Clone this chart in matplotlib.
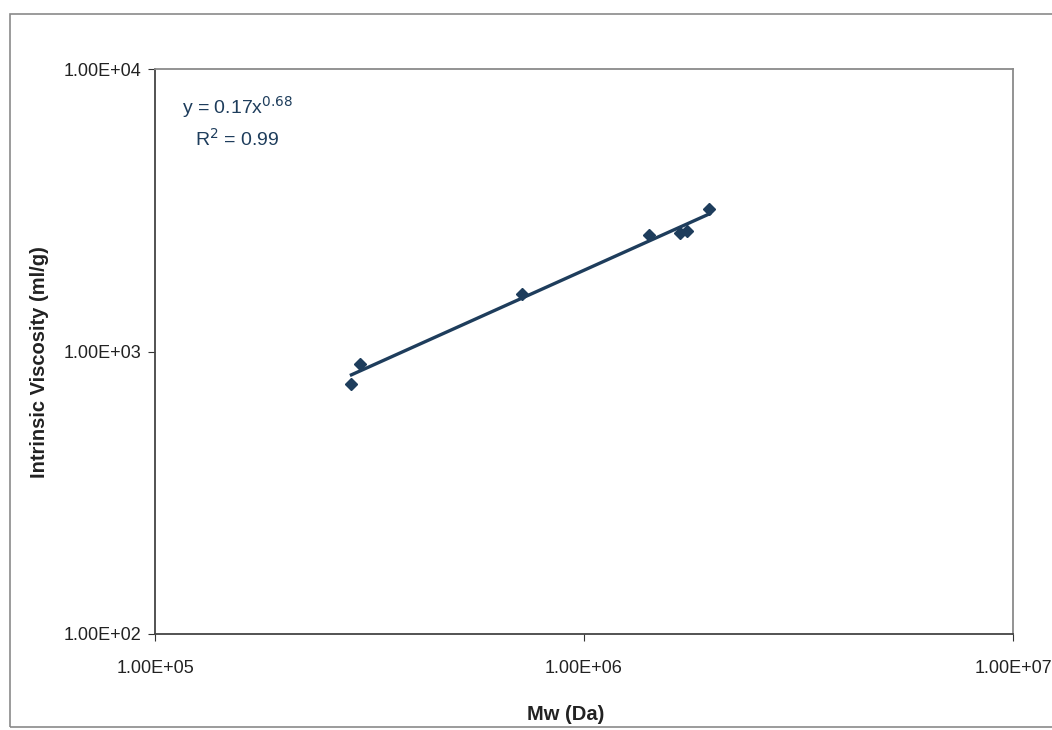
import numpy as np
import matplotlib
matplotlib.use("Agg")
import matplotlib.pyplot as plt
from matplotlib.patches import Rectangle
from matplotlib.ticker import FixedLocator, FixedFormatter, NullLocator

plt.rcParams['font.family'] = ['Liberation Sans', 'DejaVu Sans']

# Data
mw = [287000, 300000, 718000, 1418000, 1674000, 1741000, 1960000]
iv = [770, 900, 1600, 2580, 2620, 2680, 3200]
x_ticks = [1e5, 1e6, 1e7]
x_labels = ["1.00E+05", "1.00E+06", "1.00E+07"]
y_ticks = [1e2, 1e3, 1e4]
y_labels = ["1.00E+02", "1.00E+03", "1.00E+04"]
eq_text = "y = 0.17x$^{0.68}$\nR$^{2}$ = 0.99"

navy = "#1e3d5c"
W, H = 1052, 730
fig = plt.figure(figsize=(W / 100, H / 100), dpi=100)
L, R, T, B = 155, 1013, 69, 634
ax = fig.add_axes([L / W, 1 - B / H, (R - L) / W, (B - T) / H])

# outer chart border
fig.patches.append(Rectangle((10 / W, 1 - 727 / H), 1.2, (727 - 14) / H,
                             transform=fig.transFigure, fill=False,
                             edgecolor="#8a8a8a", linewidth=1.2))

ax.set_xscale('log')
ax.set_yscale('log')
ax.set_xlim(1e5, 1e7)
ax.set_ylim(1e2, 1e4)

ax.plot(mw, iv, linestyle='none', marker='D', markersize=6, color=navy, zorder=3)

# power-law trendline fitted in log space
lx, ly = np.log10(mw), np.log10(iv)
b, a = np.polyfit(lx, ly, 1)
xs = np.array([min(mw), max(mw)])
ax.plot(xs, 10 ** (a + b * np.log10(xs)), color=navy, linewidth=2.4, zorder=2)

ax.text(0.096, 0.955, eq_text, transform=ax.transAxes, ha='center', va='top',
        fontsize=14, color=navy, linespacing=1.45)

ax.xaxis.set_major_locator(FixedLocator(x_ticks))
ax.xaxis.set_major_formatter(FixedFormatter(x_labels))
ax.yaxis.set_major_locator(FixedLocator(y_ticks))
ax.yaxis.set_major_formatter(FixedFormatter(y_labels))
ax.xaxis.set_minor_locator(NullLocator())
ax.yaxis.set_minor_locator(NullLocator())
ax.tick_params(axis='x', direction='out', length=5, pad=14, labelsize=13, colors='#333333')
ax.tick_params(axis='y', direction='out', length=5, pad=5, labelsize=13, colors='#333333')
for lbl in ax.get_xticklabels() + ax.get_yticklabels():
    lbl.set_color('#222222')

for s in ['top', 'right']:
    ax.spines[s].set_color('#8a8a8a')
    ax.spines[s].set_linewidth(1.3)
for s in ['left', 'bottom']:
    ax.spines[s].set_color('#444444')
    ax.spines[s].set_linewidth(1.3)

ax.set_xlabel("Mw (Da)", fontsize=14.5, fontweight='bold', color='#222222')
ax.set_ylabel("Intrinsic Viscosity (ml/g)", fontsize=14.5, fontweight='bold', color='#222222')
ax.xaxis.set_label_coords((566 - L) / (R - L), -(715 - B) / (B - T))
ax.yaxis.set_label_coords(-(L - 40) / (R - L), (B - 362) / (B - T))
ax.xaxis.label.set_va('center')
ax.yaxis.label.set_va('center')

fig.savefig("out.png", dpi=100)
